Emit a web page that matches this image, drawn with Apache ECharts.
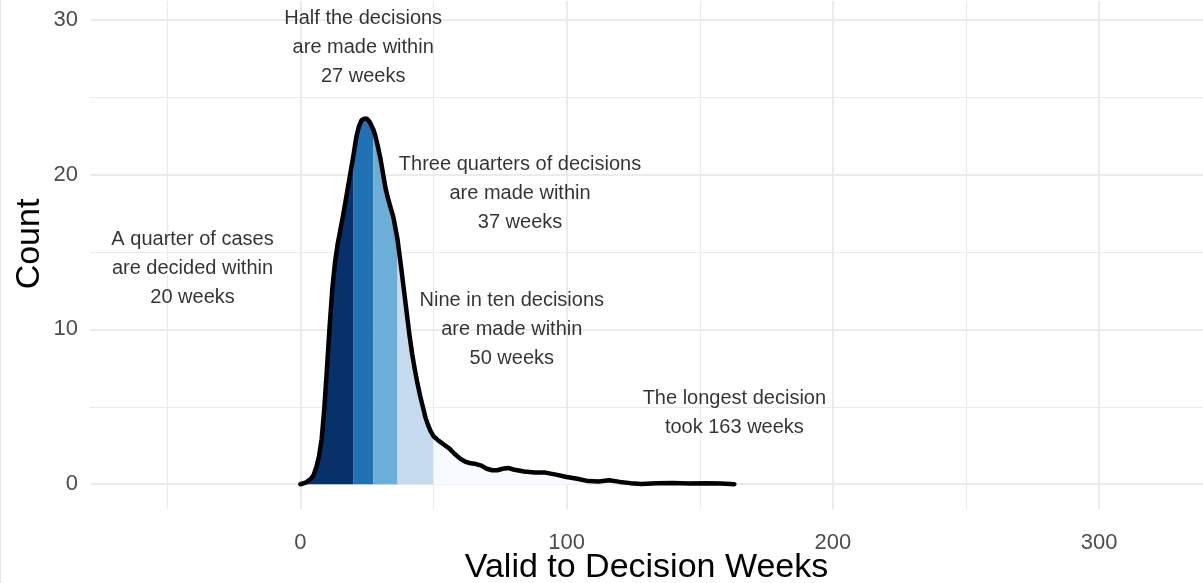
<!DOCTYPE html>
<html>
<head>
<meta charset="utf-8">
<script src="https://cdn.jsdelivr.net/npm/echarts@6/dist/echarts.min.js"></script>
<style>
  html, body { margin: 0; padding: 0; background: #fff; }
  #chart { width: 1203px; height: 583px; }
</style>
</head>
<body>
<div id="chart"></div>
<script>
// curve: weeks -> count
const weeks = [0, 2, 4, 5, 6, 7, 8, 9, 10, 11, 12, 13, 14, 15, 16, 17, 18, 19, 20,
  21, 22, 23, 24, 25, 26, 27.4, 28, 29, 30, 31, 32, 33, 34, 35, 36.5, 38, 39, 40,
  41, 42, 43, 44, 45, 46, 47, 48, 49, 50, 52, 54, 56, 58, 60, 62, 64, 66, 68, 70,
  72, 74, 76, 78, 80, 84, 88, 92, 96, 100, 104, 108, 112, 116, 120, 124, 128, 134,
  140, 146, 152, 158, 163];
const counts = [0, 0.1, 0.35, 0.6, 1.1, 1.8, 2.9, 4.9, 7.5, 10.2, 12.6, 14.3, 15.5, 16.4, 17.3, 18.3, 19.3, 20.3, 21.3,
  22.4, 23.1, 23.5, 23.6, 23.6, 23.4, 22.9, 22.6, 21.9, 21.1, 20.1, 19.1, 18.4, 17.8, 17.2, 15.8, 13.8, 12.4, 11.0,
  9.6, 8.4, 7.4, 6.5, 5.7, 5.0, 4.3, 3.8, 3.4, 3.1, 2.8, 2.55, 2.3, 1.95, 1.65, 1.45, 1.35, 1.3, 1.2, 1.0,
  0.9, 0.9, 1.0, 1.05, 0.95, 0.82, 0.75, 0.75, 0.62, 0.47, 0.35, 0.2, 0.18, 0.25, 0.15, 0.07, 0.02, 0.06,
  0.08, 0.05, 0.06, 0.04, 0];

// quantile bands
const bandBreaks = [0, 20, 27.4, 36.5, 50, 163];
const bandColors = ['#08306b', '#2171b5', '#6baed6', '#c6dbef', '#f7fbff'];

// annotations
const noteX = [-40.5, 23.6, 82.5, 79.4, 163];
const noteY = [13.96, 28.2, 18.75, 10.0, 4.6];
const noteText = [
  'A quarter of cases\nare decided within\n20 weeks',
  'Half the decisions\nare made within\n27 weeks',
  'Three quarters of decisions\nare made within\n37 weeks',
  'Nine in ten decisions\nare made within\n50 weeks',
  'The longest decision\ntook 163 weeks'
];

// axes
const xTicks = [0, 100, 200, 300];
const xMinor = [-50, 50, 150, 250];
const yTicks = [0, 10, 20, 30];
const yMinor = [5, 15, 25];

const font = 'Liberation Sans, Arial, sans-serif';
const points = weeks.map((w, i) => [w, counts[i]]);

const chart = echarts.init(document.getElementById('chart'));

const gridLines = []
  .concat(xTicks.map(v => ({ xAxis: v, lineStyle: { width: 2 } })))
  .concat(xMinor.map(v => ({ xAxis: v, lineStyle: { width: 1.2 } })))
  .concat(yTicks.map(v => ({ yAxis: v, lineStyle: { width: 2 } })))
  .concat(yMinor.map(v => ({ yAxis: v, lineStyle: { width: 1.2 } })));

// grid lines sit under everything (markLine z defaults to 5)
const series = [{
  type: 'line',
  data: [],
  z: 0,
  silent: true,
  markLine: {
    z: 0,
    silent: true,
    symbol: 'none',
    label: { show: false },
    lineStyle: { color: '#ebebeb', type: 'solid' },
    data: gridLines
  }
}];

// filled bands
for (let b = 0; b < bandColors.length; b++) {
  const lo = bandBreaks[b], hi = bandBreaks[b + 1];
  series.push({
    type: 'line',
    data: points.filter(p => p[0] >= lo && p[0] <= hi),
    symbol: 'none',
    lineStyle: { width: 0 },
    areaStyle: { color: bandColors[b], opacity: 1 },
    z: 2,
    silent: true
  });
}

// outline
series.push({
  type: 'line',
  data: points,
  symbol: 'none',
  lineStyle: { color: '#000', width: 4.5, join: 'round', cap: 'round' },
  z: 3,
  silent: true
});

// text notes
series.push({
  type: 'scatter',
  symbolSize: 0,
  z: 4,
  silent: true,
  data: noteText.map((t, i) => ({ name: t, value: [noteX[i], noteY[i]] })),
  label: {
    show: true,
    position: 'inside',
    formatter: '{b}',
    fontFamily: font,
    fontSize: 20,
    lineHeight: 29,
    color: '#000',
    textBorderWidth: 0,
    align: 'center'
  }
});

const option = {
  animation: false,
  backgroundColor: '#fff',
  grid: { left: 90, right: 0, top: 1, bottom: 74, outerBoundsMode: 'none' },
  xAxis: {
    type: 'value',
    min: -79,
    max: 339,
    name: 'Valid to Decision Weeks',
    nameLocation: 'middle',
    nameGap: 42,
    nameMoveOverlap: false,
    nameTextStyle: { fontFamily: font, fontSize: 34, color: '#000' },
    axisLine: { show: false },
    axisTick: { show: false },
    splitLine: { show: false },
    axisLabel: {
      customValues: xTicks,
      fontFamily: font,
      fontSize: 22,
      color: '#4d4d4d',
      margin: 23
    }
  },
  yAxis: {
    type: 'value',
    min: -1.6,
    max: 31.2,
    name: 'Count',
    nameLocation: 'middle',
    nameGap: 43,
    nameMoveOverlap: false,
    nameTextStyle: { fontFamily: font, fontSize: 34, color: '#000', padding: [0, 0, 0, 22] },
    axisLine: { show: false },
    axisTick: { show: false },
    splitLine: { show: false },
    axisLabel: {
      customValues: yTicks,
      fontFamily: font,
      fontSize: 22,
      color: '#4d4d4d',
      margin: 12
    }
  },
  graphic: [{
    type: 'line',
    shape: { x1: 0.5, y1: 0, x2: 0.5, y2: 583 },
    style: { stroke: '#e6e6e6', lineWidth: 1 },
    silent: true
  }],
  series: series
};

chart.setOption(option);
</script>
</body>
</html>
